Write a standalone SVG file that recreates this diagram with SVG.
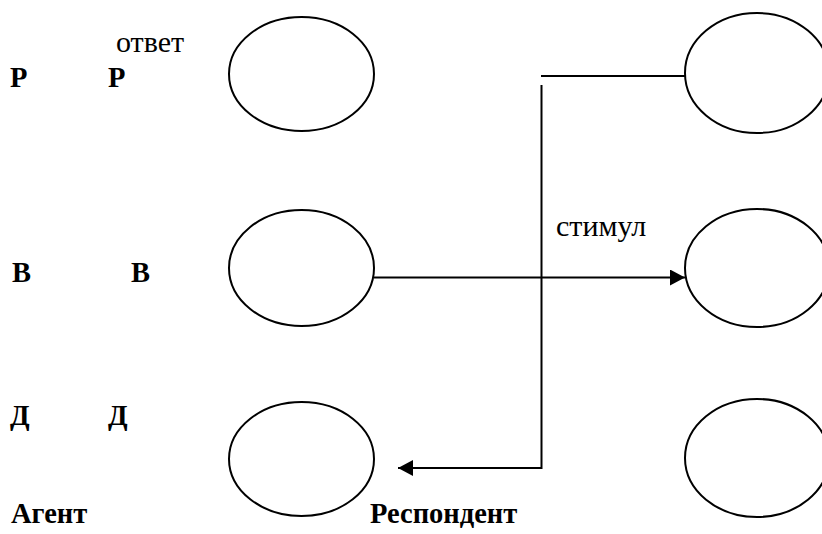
<svg xmlns="http://www.w3.org/2000/svg" width="822" height="534" viewBox="0 0 822 534">
  <style>
    .node { fill: none; stroke: #000; stroke-width: 2; }
    .wire { fill: none; stroke: #000; stroke-width: 2; }
    .lbl { font-family: "Liberation Serif", "DejaVu Serif", serif; font-size: 28.5px; font-weight: bold; fill: #000; }
    .note { font-family: "Liberation Serif", "DejaVu Serif", serif; font-size: 30px; fill: #000; }
  </style>
  <defs>
    <marker id="head" viewBox="0 0 15 16" refX="15" refY="8" markerWidth="15" markerHeight="16" markerUnits="userSpaceOnUse" orient="auto">
      <path d="M0,0 L15,8 L0,16 Z" fill="#000"/>
    </marker>
  </defs>
  <rect width="822" height="534" fill="#fff"/>

  <!-- side labels -->
  <g id="labels">
    <text class="lbl" x="10" y="87">Р</text>
    <text class="lbl" x="108" y="87">Р</text>
    <text class="lbl" x="12" y="282">В</text>
    <text class="lbl" x="131" y="282">В</text>
    <text class="lbl" x="10" y="425">Д</text>
    <text class="lbl" x="108" y="425">Д</text>
    <text class="lbl" x="11" y="523">Агент</text>
    <text class="lbl" x="370" y="523">Респондент</text>
  </g>

  <!-- agent column -->
  <g id="agent-r"><ellipse class="node" cx="301.5" cy="74" rx="72.5" ry="57"/></g>
  <g id="agent-v"><ellipse class="node" cx="301.5" cy="268" rx="72.5" ry="58"/></g>
  <g id="agent-d"><ellipse class="node" cx="301.5" cy="459" rx="72.5" ry="57"/></g>

  <!-- respondent column -->
  <g id="resp-r"><ellipse class="node" cx="757" cy="73" rx="72" ry="60"/></g>
  <g id="resp-v"><ellipse class="node" cx="757" cy="268" rx="72" ry="59"/></g>
  <g id="resp-d"><ellipse class="node" cx="757" cy="458" rx="72" ry="59"/></g>

  <!-- connectors -->
  <g id="connectors">
    <line class="wire" x1="541" y1="76" x2="685" y2="76"/>
    <polyline class="wire" points="541.5,85 541.5,468 398,468" marker-end="url(#head)"/>
    <line class="wire" x1="374" y1="277.5" x2="685" y2="277.5" marker-end="url(#head)"/>
    <text class="note" x="116" y="52">ответ</text>
    <text class="note" x="556" y="236">стимул</text>
  </g>
</svg>
